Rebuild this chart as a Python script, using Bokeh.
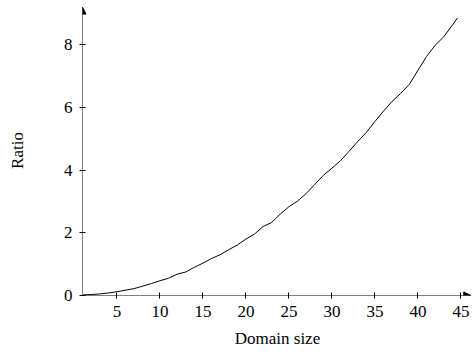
from bokeh.plotting import figure
from bokeh.models import Range1d, FixedTicker, Arrow, NormalHead
from bokeh.embed import file_html
from bokeh.resources import INLINE

# Data
domain_size = [1, 2, 3, 4, 5, 6, 7, 8, 9, 10, 11, 12, 13, 14, 15, 16, 17, 18, 19, 20,
               21, 22, 23, 24, 25, 26, 27, 28, 29, 30, 31, 32, 33, 34, 35, 36, 37, 38,
               39, 40, 41, 42, 43, 44, 44.6]
ratio = [0.02, 0.03, 0.05, 0.08, 0.12, 0.17, 0.22, 0.30, 0.38, 0.47, 0.55, 0.68, 0.75,
         0.90, 1.03, 1.18, 1.30, 1.46, 1.61, 1.80, 1.96, 2.20, 2.33, 2.60, 2.83, 3.01,
         3.25, 3.54, 3.83, 4.06, 4.30, 4.60, 4.91, 5.20, 5.55, 5.88, 6.19, 6.45, 6.73,
         7.18, 7.62, 7.98, 8.25, 8.62, 8.85]
x_ticks = [5, 10, 15, 20, 25, 30, 35, 40, 45]
y_ticks = [0, 2, 4, 6, 8]

FONT = "Liberation Serif"

p = figure(width=472, height=350, output_backend="svg", toolbar_location=None,
           x_range=Range1d(1, 46.35), y_range=Range1d(0, 9.25),
           min_border_left=82, min_border_right=0, min_border_top=5,
           min_border_bottom=49)
p.outline_line_color = None
p.grid.visible = False
p.background_fill_color = "white"

p.line(domain_size, ratio, line_color="black", line_width=1)

for ax in (p.xaxis[0], p.yaxis[0]):
    ax.axis_line_color = None
    ax.major_tick_in = 3
    ax.major_tick_out = 3
    ax.major_tick_line_color = "black"
    ax.minor_tick_line_color = None
    ax.major_label_text_font = FONT
    ax.major_label_text_font_size = "17px"
    ax.major_label_text_color = "black"
    ax.axis_label_text_font = FONT
    ax.axis_label_text_font_size = "17px"
    ax.axis_label_text_font_style = "normal"
    ax.axis_label_text_color = "black"

p.xaxis[0].ticker = FixedTicker(ticks=x_ticks)
p.yaxis[0].ticker = FixedTicker(ticks=y_ticks)
p.xaxis[0].major_label_standoff = 7
p.yaxis[0].major_label_standoff = 7
p.xaxis[0].axis_label = "Domain size"
p.yaxis[0].axis_label = "Ratio"
p.xaxis[0].axis_label_standoff = 9
p.yaxis[0].axis_label_standoff = 34

# axis lines with arrow heads
p.add_layout(Arrow(x_start=1, y_start=0, x_end=46.15, y_end=0, line_color="black",
                   line_width=1,
                   end=NormalHead(size=7, fill_color="black", line_color="black")))
p.add_layout(Arrow(x_start=1, y_start=0, x_end=1, y_end=9.2, line_color="black",
                   line_width=1,
                   end=NormalHead(size=7, fill_color="black", line_color="black")))

open("out.html", "w").write(file_html(p, INLINE))
